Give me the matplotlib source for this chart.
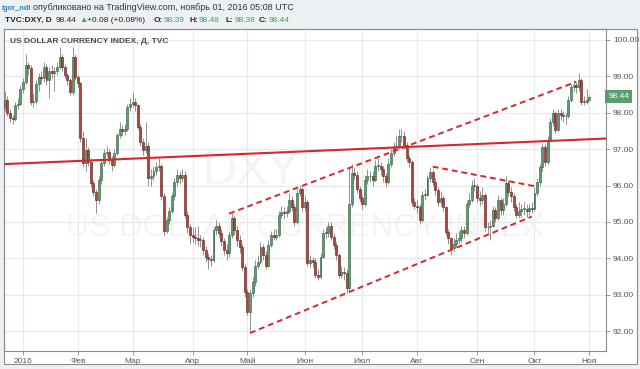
import numpy as np
import pandas as pd
import matplotlib
matplotlib.use('Agg')
import matplotlib.pyplot as plt
from matplotlib.patches import Rectangle
from matplotlib.ticker import FormatStrFormatter

plt.rcParams['font.family'] = ['Liberation Sans', 'DejaVu Sans']

# daily DXY candles, 23 Dec 2015 .. 1 Nov 2016
first_open = 98.15
closes = [
    98.35, 98.00, 97.85, 97.82, 98.20, 98.25, 98.65,
    98.85, 99.30, 99.22, 98.30, 98.32, 98.80, 98.99, 98.95, 99.27, 98.90,
    99.15, 99.10, 99.15, 99.25, 99.54, 99.27, 99.04, 98.90, 98.58, 99.54,
    98.99, 98.81, 97.30, 96.62, 96.98, 96.66, 96.07, 95.83, 95.60, 96.15,
    96.62, 96.90, 96.92, 96.70, 96.57, 96.90, 97.39, 97.55, 97.50, 97.55,
    98.17, 98.25, 98.30, 98.20, 97.62, 97.20, 96.97, 97.10, 96.20, 96.25,
    96.40, 96.50, 96.55, 95.70, 94.75, 95.05, 95.30, 95.70, 96.10, 96.30,
    96.20, 96.30, 95.20, 94.85, 94.65, 94.60, 94.55, 94.50, 94.50, 94.23,
    94.05, 93.97, 93.95, 94.78, 94.90, 94.70, 94.48, 94.23, 94.15, 94.65,
    95.10, 94.78, 94.50, 94.30, 93.77, 93.08, 92.53, 93.05, 93.35, 93.80,
    93.90, 94.30, 94.10, 93.80, 94.37, 94.65, 94.60, 94.65, 95.20, 95.27,
    95.25, 95.30, 95.60, 95.40, 95.00, 95.80, 95.90, 95.40, 95.55, 93.87,
    93.95, 93.90, 93.55, 93.50, 94.04, 94.70, 94.70, 94.90, 94.60, 94.37,
    94.10, 93.55, 93.63, 93.60, 93.20, 95.50, 96.35, 96.30, 95.90, 95.65,
    95.50, 96.15, 96.25, 96.25, 96.15, 96.55, 96.55, 96.45, 96.26, 96.10,
    96.60, 96.90, 97.05, 97.10, 97.35, 97.35, 97.12, 96.75, 96.65, 95.55,
    95.45, 95.40, 95.05, 95.75, 95.75, 96.20, 96.38, 96.10, 95.88, 95.55,
    95.65, 95.40, 94.73, 94.55, 94.28, 94.40, 94.50, 94.55, 94.78, 94.70,
    95.50, 95.60, 96.00, 96.00, 95.65, 95.60, 95.75, 94.87, 94.85, 94.90,
    95.32, 95.10, 95.60, 95.32, 95.50, 96.07, 95.82, 95.70, 95.40, 95.20,
    95.30, 95.35, 95.35, 95.30, 95.38, 95.35, 95.80, 96.10, 96.50, 97.05,
    96.65, 97.25, 97.75, 98.00, 97.53, 98.00, 97.95, 97.90, 97.90, 98.35,
    98.70, 98.76, 98.70, 98.90, 98.30, 98.30, 98.36, 98.44,
]
highs = [
    98.60, 98.45, 98.10, 97.95, 98.30, 98.40, 98.75,
    98.95, 99.60, 99.40, 99.30, 98.55, 98.90, 99.10, 99.15, 99.40, 99.35,
    99.25, 99.30, 99.25, 99.40, 99.80, 99.60, 99.35, 99.10, 98.95, 99.80,
    99.60, 99.05, 98.85, 97.50, 97.30, 97.05, 96.75, 96.15, 95.90, 96.25,
    96.70, 97.00, 97.10, 97.00, 96.80, 97.00, 97.45, 97.75, 97.65, 97.70,
    98.25, 98.40, 98.57, 98.40, 98.25, 97.70, 97.30, 97.75, 97.20, 96.45,
    96.55, 96.65, 96.75, 96.60, 95.80, 95.15, 95.40, 95.80, 96.20, 96.45,
    96.40, 96.45, 96.40, 95.30, 94.95, 94.85, 94.85, 94.90, 94.65, 94.60,
    94.35, 94.15, 94.10, 94.85, 95.05, 95.00, 94.80, 94.55, 94.40, 94.75,
    95.25, 95.20, 94.90, 94.65, 94.40, 93.85, 93.15, 93.15, 93.50, 93.95,
    94.10, 94.45, 94.40, 94.20, 94.50, 94.75, 94.80, 94.80, 95.30, 95.45,
    95.40, 95.45, 95.80, 95.70, 95.50, 95.90, 96.00, 95.95, 95.70, 95.60,
    94.10, 94.05, 94.00, 93.70, 94.15, 94.80, 94.85, 95.00, 95.00, 94.70,
    94.45, 94.15, 93.80, 93.75, 93.70, 96.50, 96.60, 96.50, 96.40, 96.00,
    95.75, 96.30, 96.45, 96.40, 96.40, 96.70, 96.75, 96.65, 96.55, 96.35,
    96.75, 97.00, 97.20, 97.40, 97.55, 97.55, 97.50, 97.20, 96.85, 96.70,
    95.65, 95.60, 95.50, 95.85, 95.90, 96.30, 96.50, 96.45, 96.20, 95.95,
    95.85, 95.75, 95.45, 94.80, 94.60, 94.55, 94.70, 94.75, 94.90, 94.90,
    95.60, 95.80, 96.15, 96.20, 96.05, 95.85, 95.95, 95.80, 95.00, 95.05,
    95.45, 95.40, 95.75, 95.65, 95.65, 96.25, 96.15, 95.95, 95.80, 95.50,
    95.55, 95.50, 95.55, 95.50, 95.50, 95.55, 95.95, 96.20, 96.60, 97.15,
    97.15, 97.35, 97.85, 98.10, 98.05, 98.10, 98.10, 98.05, 98.00, 98.45,
    98.80, 98.90, 98.85, 99.10, 98.95, 98.45, 98.65, 98.48,
]
lows = [
    98.05, 97.90, 97.75, 97.70, 97.78, 98.10, 98.20,
    98.55, 98.80, 99.05, 98.20, 98.15, 98.25, 98.60, 98.80, 98.85, 98.75,
    98.40, 98.95, 98.60, 99.05, 99.20, 99.15, 98.95, 98.75, 98.50, 98.50,
    98.90, 98.70, 97.20, 96.50, 96.40, 96.55, 95.95, 95.70, 95.25, 95.50,
    96.05, 96.55, 96.80, 96.60, 96.40, 96.50, 96.85, 97.30, 97.35, 97.40,
    97.50, 98.05, 98.15, 98.05, 97.55, 97.10, 96.85, 96.90, 96.00, 96.00,
    96.15, 96.30, 96.40, 95.60, 94.65, 94.70, 94.95, 95.25, 95.60, 96.00,
    96.05, 96.10, 95.10, 94.70, 94.40, 94.45, 94.40, 94.35, 94.30, 94.10,
    93.90, 93.70, 93.80, 93.90, 94.65, 94.60, 94.35, 94.10, 93.95, 94.05,
    94.55, 94.65, 94.35, 94.15, 93.65, 92.95, 92.45, 91.98, 92.95, 93.25,
    93.70, 93.85, 93.95, 93.70, 93.75, 94.30, 94.50, 94.50, 94.60, 95.10,
    95.10, 95.15, 95.25, 95.30, 94.90, 94.95, 95.70, 95.30, 95.30, 93.80,
    93.75, 93.75, 93.45, 93.40, 93.45, 94.00, 94.55, 94.60, 94.50, 94.25,
    93.95, 93.45, 93.45, 93.40, 93.05, 93.10, 95.40, 96.15, 95.80, 95.55,
    95.35, 95.45, 96.05, 96.10, 96.00, 96.10, 96.40, 96.30, 96.10, 95.95,
    96.05, 96.50, 96.80, 96.95, 97.00, 97.20, 97.00, 96.65, 96.50, 95.45,
    95.35, 95.25, 94.95, 95.00, 95.60, 95.70, 96.10, 96.00, 95.75, 95.45,
    95.45, 95.30, 94.65, 94.40, 94.10, 94.20, 94.30, 94.40, 94.45, 94.55,
    94.65, 95.40, 95.55, 95.85, 95.55, 95.45, 95.50, 94.75, 94.70, 94.50,
    94.85, 95.00, 95.05, 95.20, 95.20, 95.45, 95.70, 95.55, 95.30, 95.10,
    95.10, 95.15, 95.20, 95.15, 95.20, 95.25, 95.30, 95.70, 96.00, 96.40,
    96.55, 96.60, 97.20, 97.65, 97.45, 97.50, 97.80, 97.75, 97.70, 97.85,
    98.30, 98.60, 98.55, 98.60, 98.20, 98.20, 98.25, 98.38,
]

# trend lines drawn on the chart: (bar index from 1 Jan 2016, price)
line_solid = [(-7, 96.59), (223, 97.29)]
channel_top = [(79, 95.23), (212, 98.85)]
channel_bottom = [(87, 91.95), (195, 95.15)]
triangle_top = [(157, 96.52), (197, 95.97)]

month_labels = {1: '2016', 2: 'Фев', 3: 'Мар', 4: 'Апр', 5: 'Май', 6: 'Июн',
                7: 'Июл', 8: 'Авг', 9: 'Сен', 10: 'Окт', 11: 'Ноя'}
price_ticks = [92, 93, 94, 95, 96, 97, 98, 99, 100]
last_price = 98.44

dates = pd.bdate_range('2015-12-23', periods=len(closes))
idx = np.arange(len(closes)) - 7
opens = np.array([first_open] + closes[:-1])
closes_a = np.array(closes)
up = closes_a >= opens

W, H = 640, 369
fig = plt.figure(figsize=(W / 100, H / 100), dpi=100, facecolor='#eef1f4')


def fx(px):
    return px / W


def fy(py):
    return 1 - py / H


# outer chart frame (behind the axes)
fig.patches.append(Rectangle((fx(4), fy(364)), (637 - 4) / W, (364 - 29) / H,
                             transform=fig.transFigure, fc='white', ec='#8c8c8c',
                             lw=0.8, zorder=-5))

ax = fig.add_axes([fx(4), fy(351), (606 - 4) / W, (351 - 29) / H])
ax.set_facecolor('none')
ax.set_xlim(-7.28, 223.4)
ax.set_ylim(91.456, 100.30)

# candles
ax.vlines(idx, lows, highs, color='#808080', lw=0.6, zorder=2)
body_bottom = np.minimum(opens, closes_a)
body_h = np.maximum(np.abs(closes_a - opens), 0.02)
ax.bar(idx, body_h, bottom=body_bottom, width=0.75,
       color=np.where(up, '#5a9c70', '#b0433a'),
       edgecolor=np.where(up, '#2c5a3b', '#5a1c16'), lw=0.4, zorder=3)

# trend lines
red = '#d8262b'
x0, x1 = ax.get_xlim()
(a0, p0), (a1, p1) = line_solid
k = (p1 - p0) / (a1 - a0)
ax.plot([x0, x1], [p0 + k * (x0 - a0), p0 + k * (x1 - a0)], color=red, lw=1.5, zorder=4)
for seg in (channel_top, channel_bottom, triangle_top):
    ax.plot([seg[0][0], seg[1][0]], [seg[0][1], seg[1][1]], color=red, lw=1.4,
            dashes=(3, 2), zorder=4)

# watermark
ax.text(0.41, 0.555, 'DXY', transform=ax.transAxes, fontsize=34, color='#f4f4f4',
        ha='center', va='center', zorder=0)
ax.text(0.5, 0.382, 'US DOLLAR CURRENCY INDEX', transform=ax.transAxes, fontsize=23,
        color='#f4f4f4', ha='center', va='center', zorder=0)

# axes styling
month_pos, month_txt = [], []
prev = None
for i, d in zip(idx, dates):
    if d.month != prev:
        if prev is not None or d.day == 1:
            month_pos.append(i)
            month_txt.append(month_labels[d.month])
        prev = d.month
ax.set_xticks(month_pos)
ax.set_xticklabels(month_txt)
ax.set_yticks(price_ticks)
ax.yaxis.set_major_formatter(FormatStrFormatter('%.2f'))
ax.yaxis.tick_right()
ax.tick_params(axis='both', labelsize=6, colors='#8c8c8c', labelcolor='#555555',
               length=3, width=0.6, pad=2)
ax.grid(True, color='#e8e8e8', lw=0.8, zorder=0)
ax.set_axisbelow(True)
for s in ax.spines.values():
    s.set_color('#8c8c8c')
    s.set_linewidth(0.8)

# last price marker
ax.text(1.004, last_price, f'{last_price:.2f}',
        transform=ax.get_yaxis_transform(), fontsize=6, color='white',
        ha='left', va='center', zorder=6, clip_on=False,
        bbox=dict(boxstyle='square,pad=0.35', fc='#5a9c70', ec='none'))

ax.text(0.01, 0.962, 'US DOLLAR CURRENCY INDEX, Д, TVC', transform=ax.transAxes,
        fontsize=6, color='#4a4a4a', ha='left', va='center', fontweight='bold')

# header
green = '#3aa357'
fig.text(fx(2), fy(8), 'igor_ndl', fontsize=5.4, color='#2a7fc1', fontweight='bold',
         va='center')
fig.text(fx(33), fy(8), 'опубликовано на TradingView.com, ноябрь 01, 2016 05:08 UTC',
         fontsize=6.5, color='#333333', va='center')
fig.text(fx(5), fy(20.5), 'TVC:DXY, D', fontsize=6, color='#222222',
         fontweight='bold', va='center')
fig.text(fx(56), fy(20.5), '98.44', fontsize=6, color='#222222', va='center')
fig.text(fx(79), fy(20.5), '▲', fontsize=6, color=green, va='center')
fig.text(fx(87), fy(20.5), '+0.08 (+0.08%)', fontsize=6, color='#222222', va='center')
for x, lab, val in [(154, 'O:', '98.39'), (189, 'H:', '98.48'),
                    (225, 'L:', '98.38'), (259, 'C:', '98.44')]:
    fig.text(fx(x), fy(20.5), lab, fontsize=6, color='#222222', fontweight='bold',
             va='center')
    fig.text(fx(x + 9.5), fy(20.5), val, fontsize=6, color=green, va='center')

fig.savefig('out.png', dpi=100, facecolor=fig.get_facecolor())
